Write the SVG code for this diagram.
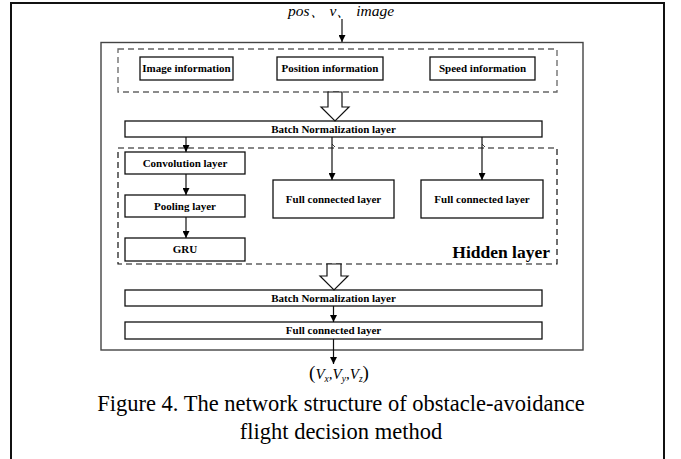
<svg xmlns="http://www.w3.org/2000/svg" width="681" height="459" viewBox="0 0 681 459">
  <defs>
    <marker id="arr" viewBox="0 0 10 10" refX="10" refY="5" markerWidth="7" markerHeight="7" markerUnits="userSpaceOnUse" orient="auto">
      <path d="M0,0 L10,5 L0,10 z" fill="#000"/>
    </marker>
    <style>
      .box { fill: #fff; stroke: #111; stroke-width: 1.3; }
      .lbl { font-family: "Liberation Serif", "Times New Roman", serif; font-weight: bold; font-size: 11px; fill: #000; text-anchor: middle; }
      .conn { stroke: #111; stroke-width: 1.2; fill: none; marker-end: url(#arr); }
      .hollow { fill: #fff; stroke: #111; stroke-width: 1.2; }
      .it { font-family: "Liberation Serif", "Times New Roman", serif; font-style: italic; fill: #000; }
      .cap { font-family: "Liberation Serif", "Times New Roman", serif; font-size: 22.5px; fill: #000; text-anchor: middle; }
    </style>
  </defs>

  <!-- page frame -->
  <rect x="11" y="3" width="653" height="460" fill="#fff" stroke="#111" stroke-width="2"/>

  <!-- input label -->
  <text class="it" x="341" y="16" font-size="15.5" text-anchor="middle">pos、 v、 image</text>

  <!-- network frame -->
  <rect id="network" x="101" y="42.5" width="482" height="307.5" fill="none" stroke="#444" stroke-width="1.4"/>

  <!-- input group -->
  <g id="inputs">
    <rect x="118" y="49" width="439" height="43" fill="none" stroke="#666" stroke-width="1.3" stroke-dasharray="6,4"/>
  </g>
  <g id="image-info">
    <rect class="box" x="140" y="57" width="93" height="23"/>
    <text class="lbl" x="186.5" y="72">Image information</text>
  </g>
  <g id="position-info">
    <rect class="box" x="277" y="57" width="106" height="23"/>
    <text class="lbl" x="330" y="72">Position information</text>
  </g>
  <g id="speed-info">
    <rect class="box" x="430" y="57" width="105" height="23"/>
    <text class="lbl" x="482.5" y="72">Speed information</text>
  </g>

  <g id="bn1">
    <rect class="box" x="125" y="121" width="417" height="16"/>
    <text class="lbl" x="333.5" y="132.5">Batch Normalization layer</text>
  </g>

  <!-- hidden layer group -->
  <g id="hidden">
    <rect x="118" y="148" width="439" height="116" fill="none" stroke="#111" stroke-width="1.2" stroke-dasharray="6,4"/>
    <text x="550" y="258" font-family="Liberation Serif, 'Times New Roman', serif" font-weight="bold" font-size="17.5" text-anchor="end">Hidden layer</text>
  </g>
  <g id="conv">
    <rect class="box" x="125" y="152" width="120" height="22"/>
    <text class="lbl" x="185" y="166.5">Convolution layer</text>
  </g>
  <g id="pool">
    <rect class="box" x="125" y="195" width="120" height="22"/>
    <text class="lbl" x="185" y="209.5">Pooling layer</text>
  </g>
  <g id="gru">
    <rect class="box" x="125" y="238" width="120" height="23"/>
    <text class="lbl" x="185" y="253">GRU</text>
  </g>
  <g id="fc1">
    <rect class="box" x="273" y="180" width="121" height="38"/>
    <text class="lbl" x="333.5" y="202.5">Full connected layer</text>
  </g>
  <g id="fc2">
    <rect class="box" x="421" y="180" width="122" height="38"/>
    <text class="lbl" x="482" y="202.5">Full connected layer</text>
  </g>

  <g id="bn2">
    <rect class="box" x="125" y="290" width="417" height="16"/>
    <text class="lbl" x="333.5" y="301.5">Batch Normalization layer</text>
  </g>
  <g id="fc-out">
    <rect class="box" x="125" y="322" width="417" height="17"/>
    <text class="lbl" x="333.5" y="334">Full connected layer</text>
  </g>

  <!-- output label -->
  <g id="output">
    <text class="it" x="339" y="379" font-size="15" text-anchor="middle"><tspan font-style="normal" font-size="19">(</tspan>V<tspan font-size="9.5" dy="3">x</tspan><tspan dy="-3">,V</tspan><tspan font-size="9.5" dy="3">y</tspan><tspan dy="-3">,V</tspan><tspan font-size="9.5" dy="3">z</tspan><tspan dy="-3" font-style="normal" font-size="19">)</tspan></text>
  </g>

  <!-- connectors -->
  <g id="connectors">
    <line class="conn" x1="342" y1="19" x2="342" y2="42"/>
    <path class="hollow" d="M328,92 V107 H321 L335,121 L349,107 H342 V92 Z"/>
    <line class="conn" x1="186" y1="137" x2="186" y2="152"/>
    <line class="conn" x1="332" y1="137" x2="332" y2="180"/>
    <line class="conn" x1="482" y1="137" x2="482" y2="180"/>
    <path d="M332,144 l3,3 M482,144 l3,3" stroke="#111" stroke-width="0.8" fill="none"/>
    <line class="conn" x1="186" y1="174" x2="186" y2="195"/>
    <line class="conn" x1="186" y1="217" x2="186" y2="238"/>
    <path class="hollow" d="M327,264 V276 H320 L334,290 L348,276 H341 V264 Z"/>
    <line class="conn" x1="333.5" y1="306" x2="333.5" y2="322"/>
    <line class="conn" x1="333.5" y1="339" x2="333.5" y2="364"/>
  </g>

  <!-- caption -->
  <text class="cap" x="341" y="411">Figure 4. The network structure of obstacle-avoidance</text>
  <text class="cap" x="341" y="439">flight decision method</text>
</svg>
